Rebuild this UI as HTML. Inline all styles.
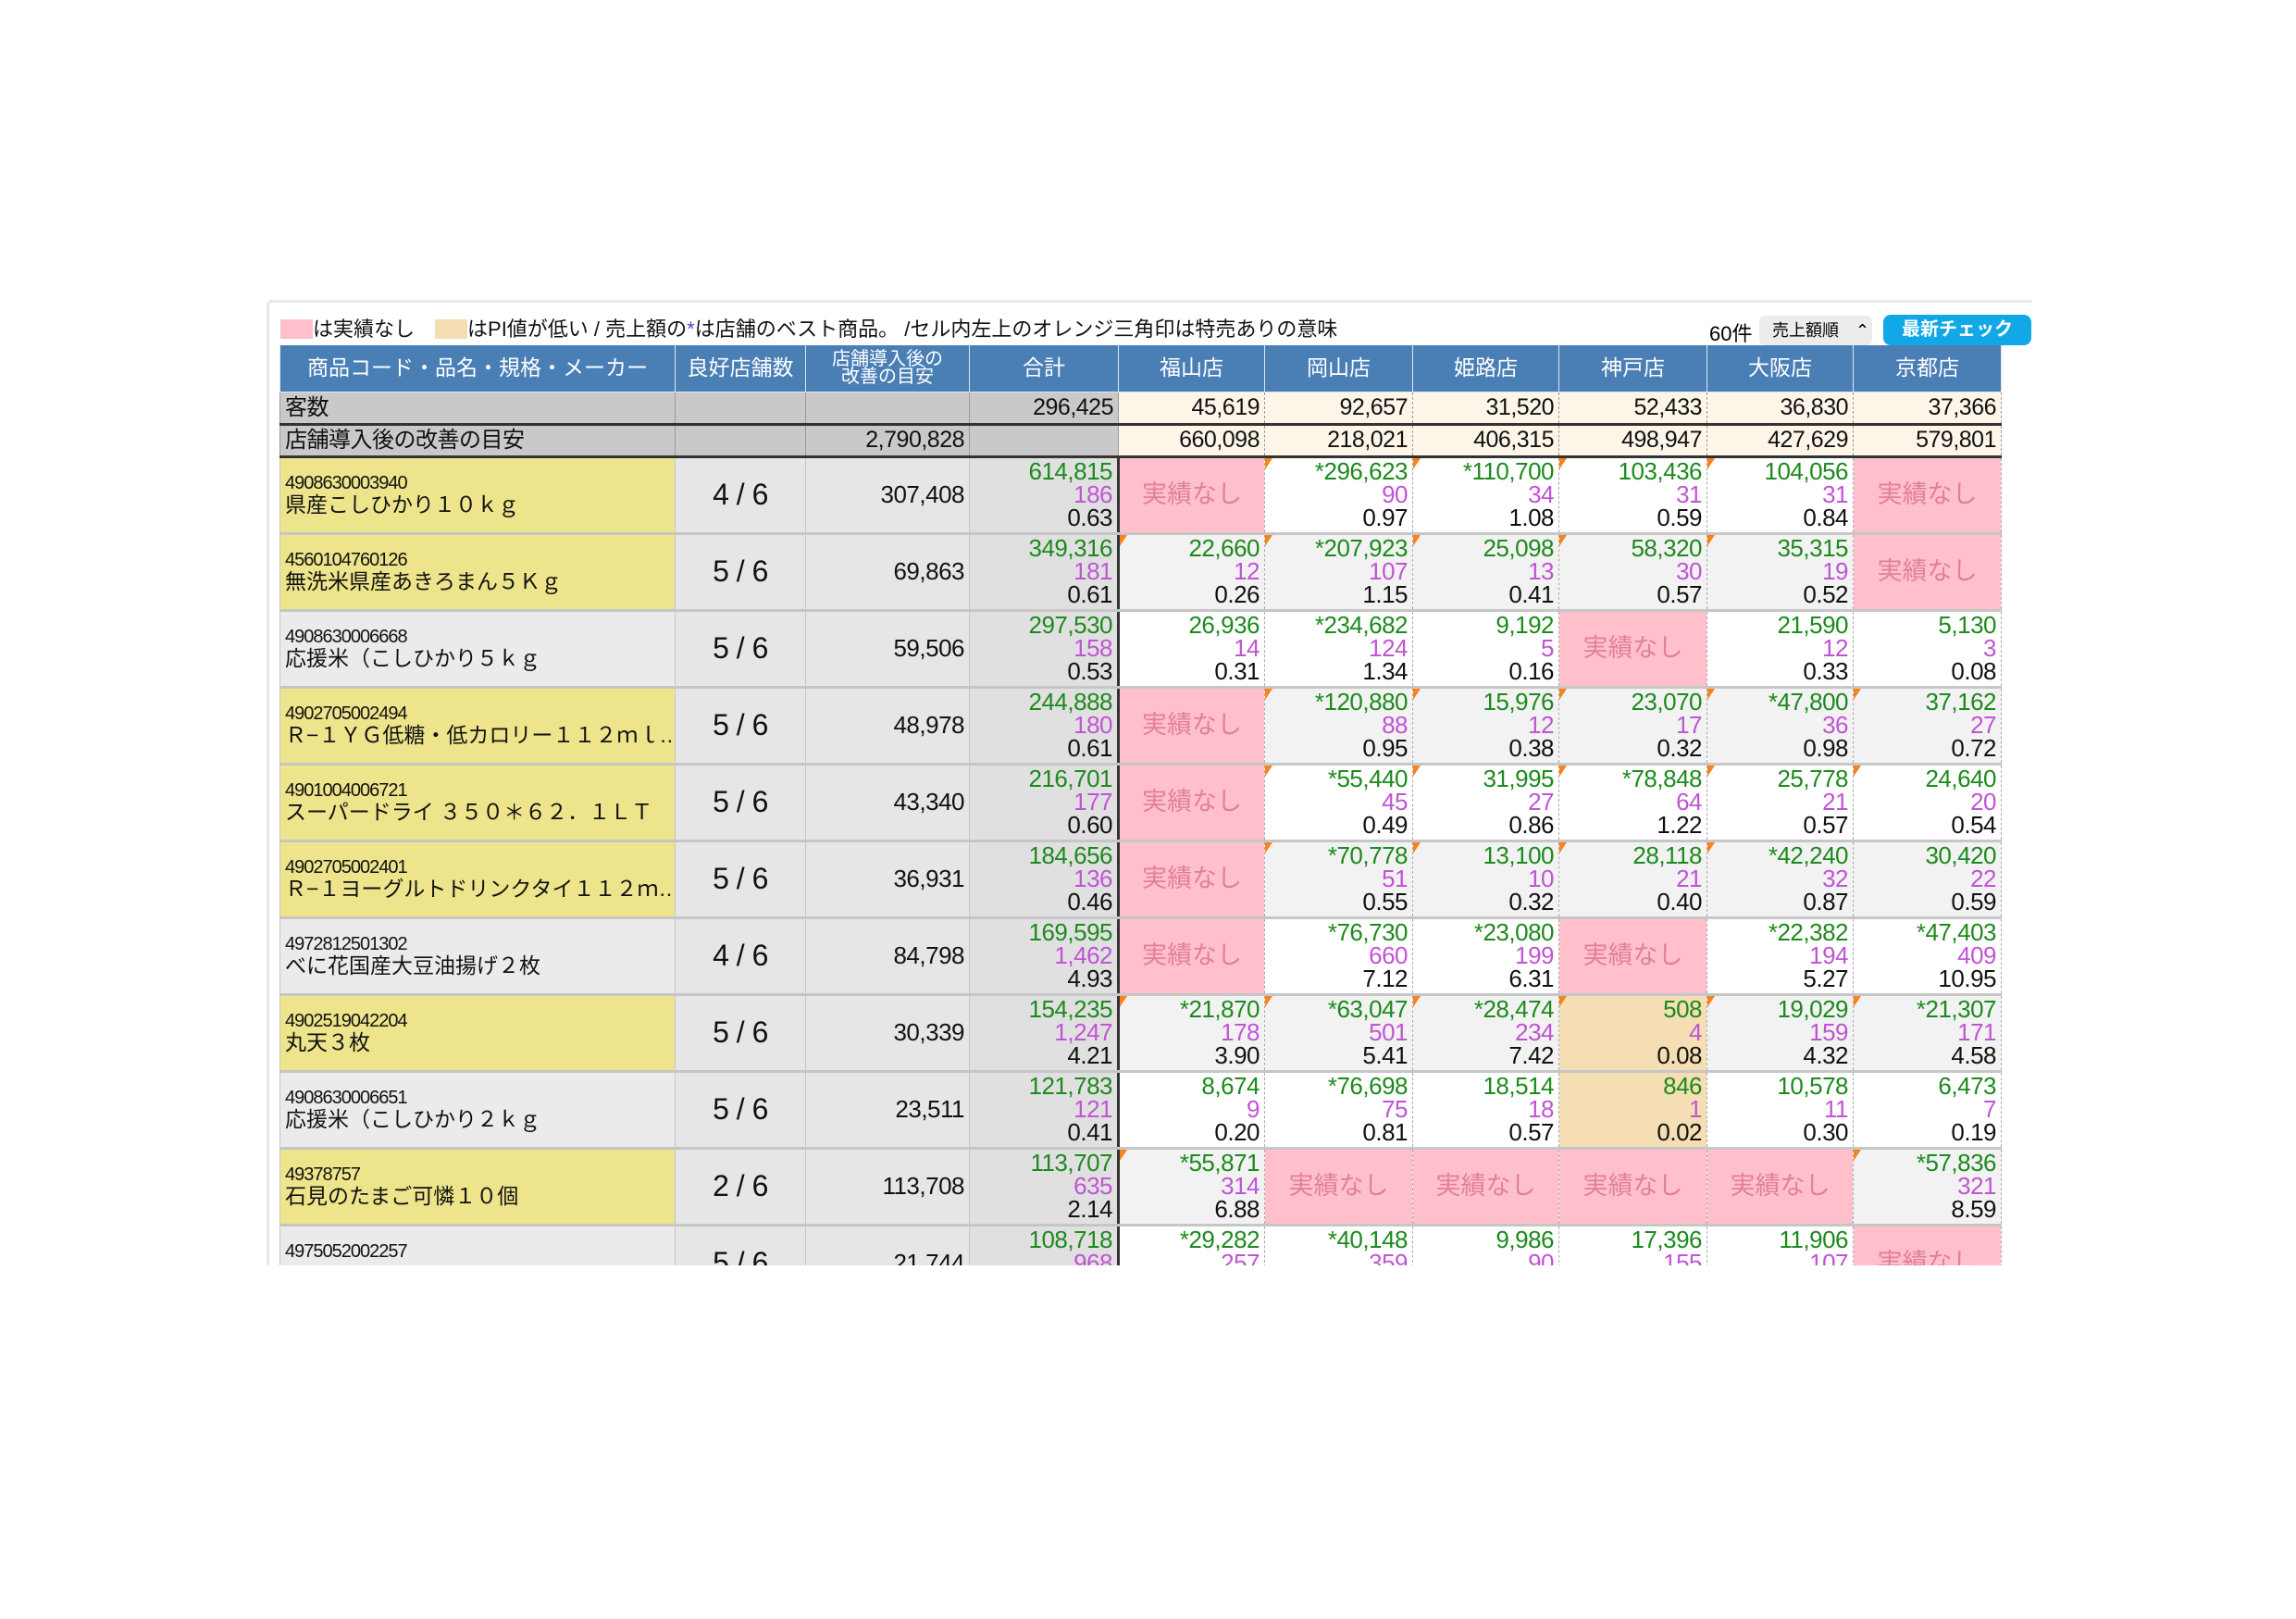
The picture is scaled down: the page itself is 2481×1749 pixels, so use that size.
<!DOCTYPE html>
<html><head><meta charset="utf-8">
<style>
body{margin:0;width:2481px;height:1749px;background:#fff;position:relative;overflow:hidden;font-family:"Liberation Sans Narrow","Liberation Sans","Noto Sans CJK JP",sans-serif;}
#wrap{position:absolute;left:288px;top:324px;width:1905px;height:1040px;overflow:hidden;border:3px solid #e8e8e8;border-bottom:none;border-right:none;border-radius:6px 0 0 0;}
.leg{position:absolute;top:17px;left:12px;font-size:22px;line-height:24px;color:#111;white-space:nowrap;font-family:"Liberation Sans","Noto Sans CJK JP",sans-serif;}
.sw{display:inline-block;width:35px;height:21px;vertical-align:-3px;}
.cnt{position:absolute;left:1556px;top:16px;font-size:22px;}
.sel{position:absolute;left:1610px;top:14px;width:122px;height:32px;background:#ececec;border-radius:6px;font-size:18px;line-height:32px;padding-left:14px;box-sizing:border-box;font-family:"Liberation Sans","Noto Sans CJK JP",sans-serif;}
.btn{position:absolute;left:1744px;top:13px;width:160px;height:33px;background:#12a8e8;border-radius:8px;color:#fff;font-weight:bold;font-size:20px;line-height:33px;text-align:center;font-family:"Liberation Sans","Noto Sans CJK JP",sans-serif;}
table{position:absolute;left:11px;top:46px;border-collapse:collapse;table-layout:fixed;width:1860px;}
td{padding:0 5px;box-sizing:border-box;font-size:26px;line-height:25px;letter-spacing:-0.5px;color:#111;text-align:right;overflow:hidden;white-space:nowrap;}
tr.h td{background:#4a7fb5;color:#fff;text-align:center;font-size:23px;letter-spacing:0;height:50px;border:1px solid #dde6ef;border-top:none;font-family:"Liberation Sans","Noto Sans CJK JP",sans-serif;}
tr.h td.two{font-size:20px;line-height:19px;}
tr.k td{height:35px;background:#c9c9c9;border:1px solid #9a9a9a;border-bottom:3px solid #333;font-size:25px;}
tr.k td.cr{background:#fdf5e8;border-left:1px dashed #999;border-right:1px dashed #999;}
tr.k td.l{text-align:left;font-family:"Liberation Sans","Noto Sans CJK JP",sans-serif;font-size:24px;}
tr.d td{height:83px;border:1px solid #c6c6c6;border-bottom:3px solid #c6c6c6;vertical-align:middle;}
td.n{text-align:left;background:#ebebeb;}
td.y{background:#ede48b;}
td.n .cd{font-size:20px;line-height:21px;letter-spacing:-1px;}
td.n .nm{font-size:23px;line-height:24px;letter-spacing:0;font-family:"Liberation Sans","Noto Sans CJK JP",sans-serif;}
td.r{text-align:center;font-size:32px;background:#e6e6e6;}
td.m{background:#e6e6e6;}
td.t{background:#e0e0e0;border-right:3px solid #333 !important;}
td.s{border-left:1px dashed #aaa !important;border-right:1px dashed #aaa !important;position:relative;}
tr.w td.s{background:#fff;}
tr.g td.s{background:#f2f2f2;}
td.s.P{background:#ffc0cb !important;color:#e27f9c;text-align:center;font-size:27px;letter-spacing:0;font-family:"Liberation Sans","Noto Sans CJK JP",sans-serif;}
td.s.B{background:#f5deb3 !important;}
td.s.T::before{content:"";position:absolute;left:0;top:0;border-top:12px solid #f7831c;border-right:8px solid transparent;}
.a{color:#1c8a1c;display:block;}
.b{color:#c054d4;display:block;}
.c{display:block;}
</style></head><body>
<div id="wrap">
<div class="leg"><span class="sw" style="background:#ffc0cb"></span>は実績なし　<span class="sw" style="background:#f5deb3"></span>はPI値が低い / 売上額の<span style="color:#5a3fc8">*</span>は店舗のベスト商品。 /セル内左上のオレンジ三角印は特売ありの意味</div>
<div class="cnt">60件</div>
<div class="sel">売上額順　⌃</div>
<div class="btn">最新チェック</div>
<table>
<colgroup><col style="width:427px"><col style="width:141px"><col style="width:177px"><col style="width:161px"><col style="width:158px"><col style="width:160px"><col style="width:158px"><col style="width:160px"><col style="width:158px"><col style="width:160px"></colgroup>
<tr class="h"><td>商品コード・品名・規格・メーカー</td><td>良好店舗数</td><td class="two">店舗導入後の<br>改善の目安</td><td>合計</td><td>福山店</td><td>岡山店</td><td>姫路店</td><td>神戸店</td><td>大阪店</td><td>京都店</td></tr>
<tr class="k"><td class="l">客数</td><td></td><td></td><td>296,425</td><td class="cr">45,619</td><td class="cr">92,657</td><td class="cr">31,520</td><td class="cr">52,433</td><td class="cr">36,830</td><td class="cr">37,366</td></tr>
<tr class="k"><td class="l">店舗導入後の改善の目安</td><td></td><td>2,790,828</td><td></td><td class="cr">660,098</td><td class="cr">218,021</td><td class="cr">406,315</td><td class="cr">498,947</td><td class="cr">427,629</td><td class="cr">579,801</td></tr>

<tr class="d w"><td class="n y"><div class="cd">4908630003940</div><div class="nm">県産こしひかり１０ｋｇ</div></td><td class="r">4 / 6</td><td class="m">307,408</td><td class="t"><span class="a">614,815</span><span class="b">186</span><span class="c">0.63</span></td>
<td class="s P">実績なし</td><td class="s T"><span class="a">*296,623</span><span class="b">90</span><span class="c">0.97</span></td><td class="s T"><span class="a">*110,700</span><span class="b">34</span><span class="c">1.08</span></td><td class="s T"><span class="a">103,436</span><span class="b">31</span><span class="c">0.59</span></td><td class="s T"><span class="a">104,056</span><span class="b">31</span><span class="c">0.84</span></td><td class="s P">実績なし</td></tr>

<tr class="d g"><td class="n y"><div class="cd">4560104760126</div><div class="nm">無洗米県産あきろまん５Ｋｇ</div></td><td class="r">5 / 6</td><td class="m">69,863</td><td class="t"><span class="a">349,316</span><span class="b">181</span><span class="c">0.61</span></td>
<td class="s T"><span class="a">22,660</span><span class="b">12</span><span class="c">0.26</span></td><td class="s T"><span class="a">*207,923</span><span class="b">107</span><span class="c">1.15</span></td><td class="s T"><span class="a">25,098</span><span class="b">13</span><span class="c">0.41</span></td><td class="s T"><span class="a">58,320</span><span class="b">30</span><span class="c">0.57</span></td><td class="s T"><span class="a">35,315</span><span class="b">19</span><span class="c">0.52</span></td><td class="s P">実績なし</td></tr>

<tr class="d w"><td class="n"><div class="cd">4908630006668</div><div class="nm">応援米（こしひかり５ｋｇ</div></td><td class="r">5 / 6</td><td class="m">59,506</td><td class="t"><span class="a">297,530</span><span class="b">158</span><span class="c">0.53</span></td>
<td class="s"><span class="a">26,936</span><span class="b">14</span><span class="c">0.31</span></td><td class="s"><span class="a">*234,682</span><span class="b">124</span><span class="c">1.34</span></td><td class="s"><span class="a">9,192</span><span class="b">5</span><span class="c">0.16</span></td><td class="s P">実績なし</td><td class="s"><span class="a">21,590</span><span class="b">12</span><span class="c">0.33</span></td><td class="s"><span class="a">5,130</span><span class="b">3</span><span class="c">0.08</span></td></tr>

<tr class="d g"><td class="n y"><div class="cd">4902705002494</div><div class="nm">Ｒ−１ＹＧ低糖・低カロリー１１２ｍｌ…</div></td><td class="r">5 / 6</td><td class="m">48,978</td><td class="t"><span class="a">244,888</span><span class="b">180</span><span class="c">0.61</span></td>
<td class="s P">実績なし</td><td class="s T"><span class="a">*120,880</span><span class="b">88</span><span class="c">0.95</span></td><td class="s T"><span class="a">15,976</span><span class="b">12</span><span class="c">0.38</span></td><td class="s T"><span class="a">23,070</span><span class="b">17</span><span class="c">0.32</span></td><td class="s T"><span class="a">*47,800</span><span class="b">36</span><span class="c">0.98</span></td><td class="s T"><span class="a">37,162</span><span class="b">27</span><span class="c">0.72</span></td></tr>

<tr class="d w"><td class="n y"><div class="cd">4901004006721</div><div class="nm">スーパードライ ３５０＊６２．１ＬＴ</div></td><td class="r">5 / 6</td><td class="m">43,340</td><td class="t"><span class="a">216,701</span><span class="b">177</span><span class="c">0.60</span></td>
<td class="s P">実績なし</td><td class="s T"><span class="a">*55,440</span><span class="b">45</span><span class="c">0.49</span></td><td class="s T"><span class="a">31,995</span><span class="b">27</span><span class="c">0.86</span></td><td class="s T"><span class="a">*78,848</span><span class="b">64</span><span class="c">1.22</span></td><td class="s T"><span class="a">25,778</span><span class="b">21</span><span class="c">0.57</span></td><td class="s T"><span class="a">24,640</span><span class="b">20</span><span class="c">0.54</span></td></tr>

<tr class="d g"><td class="n y"><div class="cd">4902705002401</div><div class="nm">Ｒ−１ヨーグルトドリンクタイ１１２ｍ…</div></td><td class="r">5 / 6</td><td class="m">36,931</td><td class="t"><span class="a">184,656</span><span class="b">136</span><span class="c">0.46</span></td>
<td class="s P">実績なし</td><td class="s T"><span class="a">*70,778</span><span class="b">51</span><span class="c">0.55</span></td><td class="s T"><span class="a">13,100</span><span class="b">10</span><span class="c">0.32</span></td><td class="s T"><span class="a">28,118</span><span class="b">21</span><span class="c">0.40</span></td><td class="s T"><span class="a">*42,240</span><span class="b">32</span><span class="c">0.87</span></td><td class="s"><span class="a">30,420</span><span class="b">22</span><span class="c">0.59</span></td></tr>

<tr class="d w"><td class="n"><div class="cd">4972812501302</div><div class="nm">べに花国産大豆油揚げ２枚</div></td><td class="r">4 / 6</td><td class="m">84,798</td><td class="t"><span class="a">169,595</span><span class="b">1,462</span><span class="c">4.93</span></td>
<td class="s P">実績なし</td><td class="s"><span class="a">*76,730</span><span class="b">660</span><span class="c">7.12</span></td><td class="s"><span class="a">*23,080</span><span class="b">199</span><span class="c">6.31</span></td><td class="s P">実績なし</td><td class="s"><span class="a">*22,382</span><span class="b">194</span><span class="c">5.27</span></td><td class="s"><span class="a">*47,403</span><span class="b">409</span><span class="c">10.95</span></td></tr>

<tr class="d g"><td class="n y"><div class="cd">4902519042204</div><div class="nm">丸天３枚</div></td><td class="r">5 / 6</td><td class="m">30,339</td><td class="t"><span class="a">154,235</span><span class="b">1,247</span><span class="c">4.21</span></td>
<td class="s T"><span class="a">*21,870</span><span class="b">178</span><span class="c">3.90</span></td><td class="s T"><span class="a">*63,047</span><span class="b">501</span><span class="c">5.41</span></td><td class="s T"><span class="a">*28,474</span><span class="b">234</span><span class="c">7.42</span></td><td class="s T B"><span class="a">508</span><span class="b">4</span><span class="c">0.08</span></td><td class="s T"><span class="a">19,029</span><span class="b">159</span><span class="c">4.32</span></td><td class="s T"><span class="a">*21,307</span><span class="b">171</span><span class="c">4.58</span></td></tr>

<tr class="d w"><td class="n"><div class="cd">4908630006651</div><div class="nm">応援米（こしひかり２ｋｇ</div></td><td class="r">5 / 6</td><td class="m">23,511</td><td class="t"><span class="a">121,783</span><span class="b">121</span><span class="c">0.41</span></td>
<td class="s"><span class="a">8,674</span><span class="b">9</span><span class="c">0.20</span></td><td class="s"><span class="a">*76,698</span><span class="b">75</span><span class="c">0.81</span></td><td class="s"><span class="a">18,514</span><span class="b">18</span><span class="c">0.57</span></td><td class="s B"><span class="a">846</span><span class="b">1</span><span class="c">0.02</span></td><td class="s"><span class="a">10,578</span><span class="b">11</span><span class="c">0.30</span></td><td class="s"><span class="a">6,473</span><span class="b">7</span><span class="c">0.19</span></td></tr>

<tr class="d g"><td class="n y"><div class="cd">49378757</div><div class="nm">石見のたまご可憐１０個</div></td><td class="r">2 / 6</td><td class="m">113,708</td><td class="t"><span class="a">113,707</span><span class="b">635</span><span class="c">2.14</span></td>
<td class="s T"><span class="a">*55,871</span><span class="b">314</span><span class="c">6.88</span></td><td class="s P">実績なし</td><td class="s P">実績なし</td><td class="s P">実績なし</td><td class="s P">実績なし</td><td class="s T"><span class="a">*57,836</span><span class="b">321</span><span class="c">8.59</span></td></tr>

<tr class="d w"><td class="n"><div class="cd">4975052002257</div><div class="nm">&nbsp;</div></td><td class="r">5 / 6</td><td class="m">21,744</td><td class="t"><span class="a">108,718</span><span class="b">968</span><span class="c">&nbsp;</span></td>
<td class="s"><span class="a">*29,282</span><span class="b">257</span><span class="c">&nbsp;</span></td><td class="s"><span class="a">*40,148</span><span class="b">359</span><span class="c">&nbsp;</span></td><td class="s"><span class="a">9,986</span><span class="b">90</span><span class="c">&nbsp;</span></td><td class="s"><span class="a">17,396</span><span class="b">155</span><span class="c">&nbsp;</span></td><td class="s"><span class="a">11,906</span><span class="b">107</span><span class="c">&nbsp;</span></td><td class="s P">実績なし</td></tr>
</table>
</div>
</body></html>
